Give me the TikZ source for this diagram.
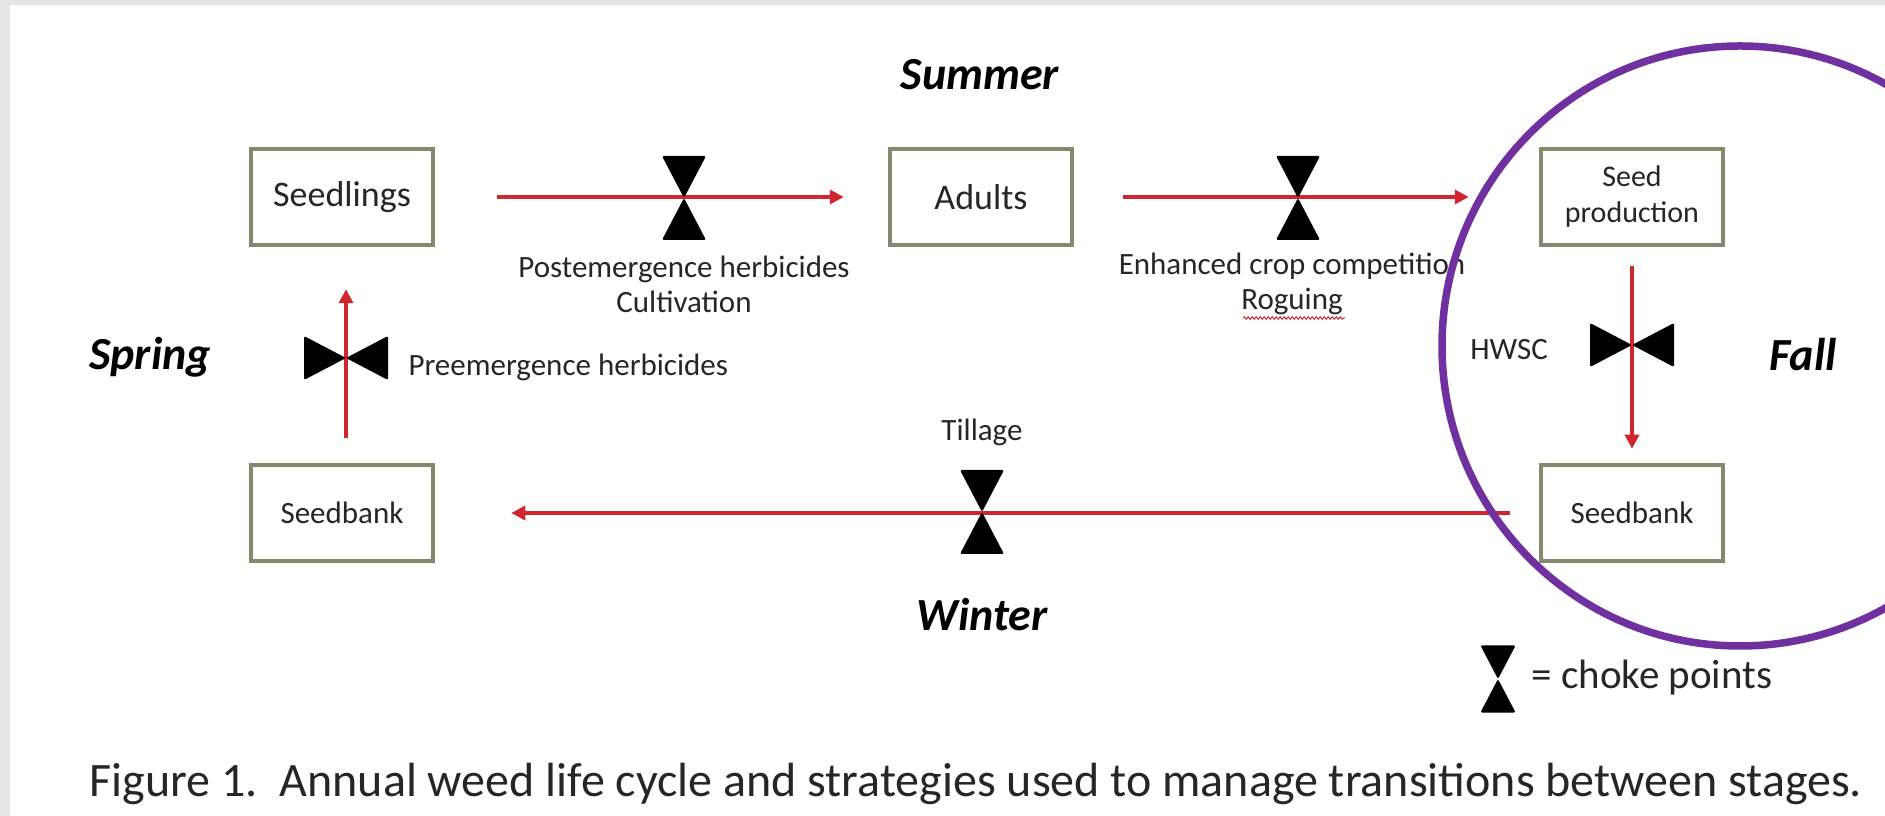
\documentclass[tikz,border=0pt]{standalone}
\usepackage{fontspec}
\setmainfont{Carlito}
\usetikzlibrary{arrows.meta,positioning,decorations.pathmorphing}

\definecolor{arrred}{RGB}{208,38,48}
\definecolor{boxline}{RGB}{134,136,110}
\definecolor{ringpurple}{RGB}{112,48,160}
\definecolor{framegray}{RGB}{228,228,228}

\tikzset{
  hglass/.pic={
    \fill[black, rounded corners=1.5pt] (-22,42) -- (22,42) -- (0,0) -- cycle;
    \fill[black, rounded corners=1.5pt] (-22,-42) -- (22,-42) -- (0,0) -- cycle;
  }
}

\begin{document}
\begin{tikzpicture}[x=1pt, y=1pt,
    box/.style={draw=boxline, line width=4.5pt, fill=white, minimum width=182pt, minimum height=96pt, align=center, inner sep=2pt, text=black!85},
    arr/.style={-{Triangle[length=14pt,width=14pt]}, draw=arrred, line width=4.5pt},
    season/.style={font=\fontsize{46}{50}\selectfont\bfseries\itshape},
    lbl/.style={font=\fontsize{31}{35}\selectfont, align=center, text=black!85}
]
\useasboundingbox (0,0) rectangle (1885,816);
\fill[framegray] (0,0) rectangle (1885,816);
\fill[white] (10,0) rectangle (1885,811);

\node[box, font=\fontsize{36}{40}\selectfont] (seedl) at (342,619) {Seedlings};
\node[box, font=\fontsize{36}{40}\selectfont] (adult) at (981,619) {Adults};
\node[box, font=\fontsize{30}{36}\selectfont] (prod) at (1632,619) {Seed\\production};
\node[box, font=\fontsize{31}{35}\selectfont] (bankR) at (1632,303) {Seedbank};
\node[box, font=\fontsize{31}{35}\selectfont] (bankL) at (342,303) {Seedbank};

\draw[arr, shorten <=62pt, shorten >=44pt] (seedl) -- (adult);
\draw[arr, shorten <=49pt, shorten >=70pt] (adult) -- (prod);
\draw[arr, shorten <=19pt, shorten >=14pt] (prod) -- (bankR);
\draw[arr, shorten <=29pt, shorten >=76pt] (bankR) -- (bankL);
\draw[arr, shorten <=25pt, shorten >=42pt] ([xshift=4pt]bankL.north) -- ([xshift=4pt]seedl.south);

\pic at (684,618) {hglass};
\pic at (1298,618) {hglass};
\pic[rotate=90] at (1632,471) {hglass};
\pic at (982,304) {hglass};
\pic[rotate=90] at (346,458) {hglass};
\pic[scale=0.8] at (1498,137) {hglass};

\node[lbl] (postlbl) at (684,532) {Postemergence herbicides\\Cultivation};
\node[lbl] (complbl) at (1292,532) {Enhanced crop competition\\Roguing};
\node[lbl, anchor=west] (prelbl) at (405,449) {Preemergence herbicides};
\node[lbl] (tilllbl) at (982,384) {Tillage};
\node[lbl] (hwsclbl) at (1509,466) {HWSC};
\node[lbl, anchor=west, font=\fontsize{41}{45}\selectfont] (keylbl) at (1528,138) {= choke points};
\draw[arrred, line width=1pt, decorate, decoration={snake, amplitude=1.2pt, segment length=4pt}] (1243,498) -- (1345,498);

\node[season] (summer) at (980,741) {Summer};
\node[season] (spring) at (150,459) {Spring};
\node[season] (winter) at (982,201) {Winter};
\node[season] (fall) at (1803,461) {Fall};

\node[font=\fontsize{48}{52}\selectfont, anchor=base, text=black!85] (caption) at (976,19) {Figure 1.\ \ Annual weed life cycle and strategies used to manage transitions between stages.};

\begin{scope}
\clip (0,0) rectangle (1885,816);
\draw[ringpurple, line width=7.5pt] (1740,470) ellipse [x radius=298, y radius=300];
\end{scope}
\end{tikzpicture}
\end{document}
